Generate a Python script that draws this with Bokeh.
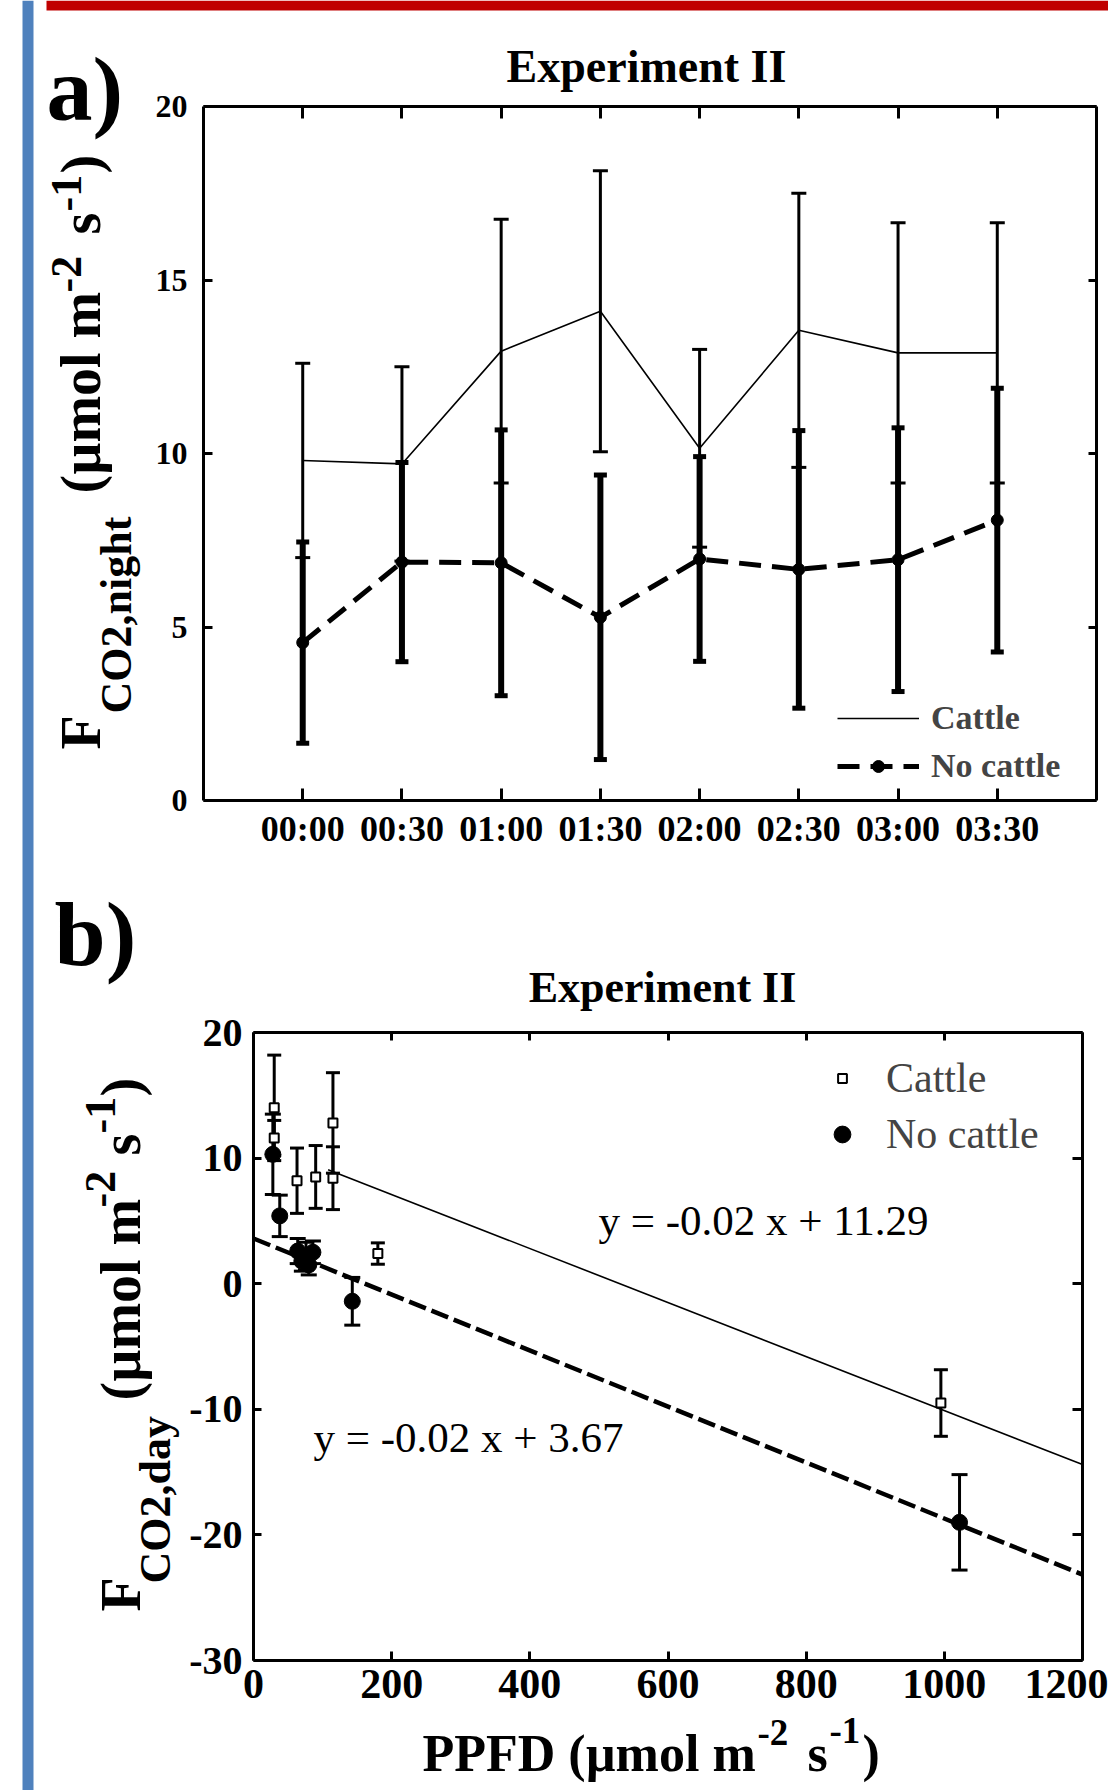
import math
from bokeh.plotting import figure
from bokeh.models import (ColumnDataSource, Whisker, TeeHead, Label, Legend, LegendItem,
                          LinearAxis, FixedTicker, Range1d, BoxAnnotation)
from bokeh.embed import file_html
from bokeh.resources import INLINE

FONT = "Liberation Serif"

# ---------------- data: panel a (night-time CO2 flux, Experiment II) ----------------
times = ["00:00", "00:30", "01:00", "01:30", "02:00", "02:30", "03:00", "03:30"]
cattle_night = [9.8, 9.7, 12.95, 14.1, 10.15, 13.55, 12.9, 12.9]
cattle_night_sd = [2.8, 2.8, 3.8, 4.05, 2.85, 3.95, 3.75, 3.75]
nocattle_night = [4.55, 6.87, 6.85, 5.28, 6.96, 6.66, 6.94, 8.08]
nocattle_night_sd = [2.9, 2.87, 3.83, 4.1, 2.95, 4.0, 3.8, 3.8]
night_yticks = [0, 5, 10, 15, 20]

# ---------------- data: panel b (daytime CO2 flux vs PPFD) ----------------
ppfd_cattle = [30, 30, 63, 90, 115, 115, 180, 995]
fco2_cattle = [14.0, 11.6, 8.2, 8.5, 12.8, 8.4, 2.4, -9.5]
sd_cattle = [4.2, 1.4, 2.6, 2.5, 4.0, 2.5, 0.85, 2.65]
ppfd_nocattle = [28, 38, 64, 70, 76, 80, 86, 143, 1022]
fco2_nocattle = [10.3, 5.4, 2.6, 1.8, 2.2, 1.5, 2.5, -1.4, -19.0]
sd_nocattle = [3.2, 1.65, 1.0, 0.8, 1.1, 0.8, 0.9, 1.9, 3.8]
fit_cattle = dict(slope=-0.0215, intercept=11.4, x=[108, 1200], label="y = -0.02 x + 11.29")
fit_nocattle = dict(slope=-0.0223, intercept=3.6, x=[0, 1200], label="y = -0.02 x + 3.67")
day_xticks = [0, 200, 400, 600, 800, 1000, 1200]
day_yticks = [-30, -20, -10, 0, 10, 20]
day_ytick_labels = ["-30", "-20", "-10", "0", "10", "20"]

# ---------------- page geometry (pixels) ----------------
W, H = 1108, 1790
A_L, A_R, A_T, A_B = 203, 1096, 106, 800      # panel a plot box
B_L, B_R, B_T, B_B = 253, 1082, 1032, 1660    # panel b plot box
XA, YA = (-1, 8), (0, 20)
XB, YB = (0, 1200), (-30, 20)
BASE_K = 0.34   # text anchor correction (fraction of font size)


def page_range_x(lo, hi, d0, d1):
    s = (d1 - d0) / (hi - lo)
    return Range1d(d0 - lo * s, d0 + (W - lo) * s)


def page_range_y(top, bottom, d0, d1):
    s = (d1 - d0) / (bottom - top)
    return Range1d(d0 - (H - bottom) * s, d0 + bottom * s)


p = figure(width=W, height=H, output_backend="svg", toolbar_location=None,
           x_range=Range1d(0, W), y_range=Range1d(H, 0),
           x_axis_type=None, y_axis_type=None, min_border=0,
           outline_line_color=None, background_fill_color="white", border_fill_color="white")
p.extra_x_ranges = {"xa": page_range_x(A_L, A_R, *XA), "xb": page_range_x(B_L, B_R, *XB)}
p.extra_y_ranges = {"ya": page_range_y(A_T, A_B, *YA), "yb": page_range_y(B_T, B_B, *YB)}

# decorations of the page (slide-like frame)
p.add_layout(BoxAnnotation(left=22, right=33, top=0, bottom=H, fill_color="#4F81BD",
                           fill_alpha=1.0, line_color=None, level="underlay"))
p.add_layout(BoxAnnotation(left=46, right=W, top=0, bottom=10, fill_color="#C00000",
                           fill_alpha=1.0, line_color=None, level="underlay"))


def add_axis(side, xr, yr, ticks, bounds, loc, tick_len, show, size=30, bold=True,
             standoff=8, overrides=None):
    ax = LinearAxis(x_range_name=xr, y_range_name=yr, fixed_location=loc, bounds=bounds,
                    ticker=FixedTicker(ticks=ticks))
    ax.axis_line_width = 3
    ax.axis_line_color = "black"
    ax.major_tick_in = tick_len
    ax.major_tick_out = 0
    ax.major_tick_line_width = 3
    ax.major_tick_line_color = "black"
    ax.minor_tick_line_color = None
    if show:
        ax.major_label_text_font = FONT
        ax.major_label_text_font_size = f"{size}px"
        ax.major_label_text_font_style = "bold" if bold else "normal"
        ax.major_label_text_color = "black"
        ax.major_label_standoff = standoff
        if overrides:
            ax.major_label_overrides = overrides
    else:
        ax.major_label_text_color = None
    p.add_layout(ax, side)
    return ax


def add_text(px, py, text, size, bold=True, angle=0.0, align="left"):
    # (px, py) is the wanted baseline start on the page
    dx = BASE_K * size * math.sin(angle)
    dy = BASE_K * size * math.cos(angle)
    p.add_layout(Label(x=px - dx, y=py - dy, text=text, text_font=FONT,
                       text_font_size=f"{size}px",
                       text_font_style="bold" if bold else "normal", angle=angle,
                       text_align=align, text_baseline="alphabetic", text_color="black"))


UP = math.pi / 2

# ---------------- panel a ----------------
xa_idx = list(range(len(times)))
add_axis("below", "xa", "ya", xa_idx, XA, YA[0], 12, True, size=36, standoff=8,
         overrides={i: t for i, t in zip(xa_idx, times)})
add_axis("above", "xa", "ya", xa_idx, XA, YA[1], 12, False)
add_axis("left", "xa", "ya", night_yticks, YA, XA[0], 9, True, size=32, standoff=16)
add_axis("right", "xa", "ya", night_yticks, YA, XA[1], 8, False)

ka = dict(x_range_name="xa", y_range_name="ya")
r_c_line = p.line(xa_idx, cattle_night, line_width=1.6, line_color="black", **ka)
r_nc_line = p.line(xa_idx, nocattle_night, line_width=5, line_color="black",
                   line_dash="22 11", **ka)
r_nc_pts = p.scatter(xa_idx, nocattle_night, marker="circle", size=12, color="black", **ka)

src_c = ColumnDataSource(dict(x=xa_idx,
                              up=[m + s for m, s in zip(cattle_night, cattle_night_sd)],
                              lo=[m - s for m, s in zip(cattle_night, cattle_night_sd)]))
src_nc = ColumnDataSource(dict(x=xa_idx,
                               up=[m + s for m, s in zip(nocattle_night, nocattle_night_sd)],
                               lo=[m - s for m, s in zip(nocattle_night, nocattle_night_sd)]))
p.add_layout(Whisker(source=src_c, base="x", upper="up", lower="lo", dimension="height",
                     line_width=3, line_color="black",
                     upper_head=TeeHead(size=15, line_width=3, line_color="black"),
                     lower_head=TeeHead(size=15, line_width=3, line_color="black"), **ka))
p.add_layout(Whisker(source=src_nc, base="x", upper="up", lower="lo", dimension="height",
                     line_width=6, line_color="black",
                     upper_head=TeeHead(size=13, line_width=5, line_color="black"),
                     lower_head=TeeHead(size=13, line_width=5, line_color="black"), **ka))

leg_a = Legend(items=[LegendItem(label="Cattle", renderers=[r_c_line]),
                      LegendItem(label="No cattle", renderers=[r_nc_line, r_nc_pts])],
               location=(837, H - 786), orientation="vertical",
               glyph_width=82, glyph_height=30, label_height=40, spacing=8,
               padding=0, margin=0, label_standoff=12, border_line_color=None,
               background_fill_alpha=0, label_text_font=FONT,
               label_text_font_size="34px", label_text_font_style="bold")
p.add_layout(leg_a)

add_text(646, 82, "Experiment II", 46, align="center")
add_text(46, 120, "a)", 92)
for txt, py, px, sz in [("F", 749, 100, 56), ("CO2,night", 713, 131, 44),
                        ("(µmol m", 493, 100, 56), ("-2", 292, 81, 44),
                        ("s", 234, 100, 56), ("-1", 211, 81, 44), (")", 173, 100, 56)]:
    add_text(px, py, txt, sz, angle=UP)

# ---------------- panel b ----------------
add_axis("below", "xb", "yb", day_xticks, XB, YB[0], 9, True, size=42, standoff=9)
add_axis("above", "xb", "yb", day_xticks, XB, YB[1], 8, False)
add_axis("left", "xb", "yb", day_yticks, YB, XB[0], 8, True, size=40, bold=True, standoff=11,
         overrides={t: s for t, s in zip(day_yticks, day_ytick_labels)})
add_axis("right", "xb", "yb", day_yticks, YB, XB[1], 10, False)

kb = dict(x_range_name="xb", y_range_name="yb")
for fit, w, dash in [(fit_cattle, 1.6, "solid"), (fit_nocattle, 4.5, "18 6")]:
    p.line(fit["x"], [fit["intercept"] + fit["slope"] * x for x in fit["x"]],
           line_width=w, line_color="black", line_dash=dash, **kb)

src_bc = ColumnDataSource(dict(x=ppfd_cattle, y=fco2_cattle,
                               up=[m + s for m, s in zip(fco2_cattle, sd_cattle)],
                               lo=[m - s for m, s in zip(fco2_cattle, sd_cattle)]))
src_bn = ColumnDataSource(dict(x=ppfd_nocattle, y=fco2_nocattle,
                               up=[m + s for m, s in zip(fco2_nocattle, sd_nocattle)],
                               lo=[m - s for m, s in zip(fco2_nocattle, sd_nocattle)]))
for src, cap in [(src_bc, 14), (src_bn, 16)]:
    p.add_layout(Whisker(source=src, base="x", upper="up", lower="lo", dimension="height",
                         line_width=3, line_color="black",
                         upper_head=TeeHead(size=cap, line_width=3, line_color="black"),
                         lower_head=TeeHead(size=cap, line_width=3, line_color="black"), **kb))
r_bn = p.scatter("x", "y", source=src_bn, marker="circle", size=16, color="black", **kb)
r_bc = p.scatter("x", "y", source=src_bc, marker="square", size=9, fill_color="white",
                 line_color="black", line_width=2, **kb)

leg_b1 = Legend(items=[LegendItem(label="Cattle", renderers=[r_bc])],
                location=(831, H - 1102), glyph_width=22, glyph_height=22,
                label_height=48, padding=0, margin=0, label_standoff=33,
                border_line_color=None, background_fill_alpha=0, label_text_font=FONT,
                label_text_font_size="42px")
leg_b2 = Legend(items=[LegendItem(label="No cattle", renderers=[r_bn])],
                location=(821, H - 1158), glyph_width=42, glyph_height=42,
                label_height=48, padding=0, margin=0, label_standoff=23,
                border_line_color=None, background_fill_alpha=0, label_text_font=FONT,
                label_text_font_size="42px")
p.add_layout(leg_b1)
p.add_layout(leg_b2)

add_text(598, 1235, fit_cattle["label"], 43, bold=False)
add_text(313, 1452, fit_nocattle["label"], 43, bold=False)
add_text(662, 1002, "Experiment II", 44, align="center")
add_text(54, 965, "b)", 92)
for txt, py, px, sz in [("F", 1611, 140, 56), ("CO2,day", 1583, 170, 44),
                        ("(µmol m", 1400, 140, 56), ("-2", 1207, 115, 44),
                        ("s", 1155, 140, 56), ("-1", 1133, 115, 44), (")", 1096, 140, 56)]:
    add_text(px, py, txt, sz, angle=UP)
for txt, px, py, sz in [("PPFD (µmol m", 422, 1771, 52), ("-2", 757, 1745, 37),
                        ("s", 807, 1771, 52), ("-1", 829, 1743, 37), (")", 862, 1771, 52)]:
    add_text(px, py, txt, sz)

open("out.html", "w").write(file_html(p, INLINE))
